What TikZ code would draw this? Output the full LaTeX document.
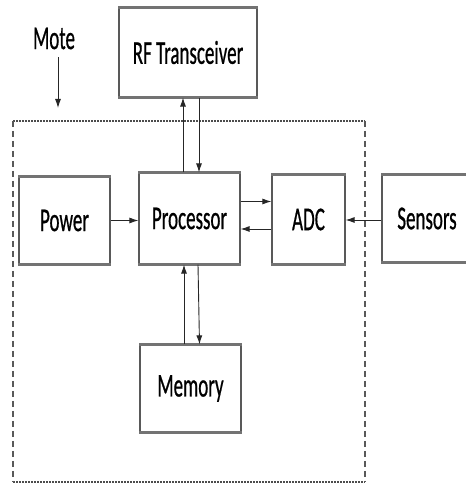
\documentclass[tikz,border=0pt]{standalone}
\usepackage{fontspec}
\setmainfont{Carlito}
\newfontfamily\lblfont{Carlito}[FakeBold=0.9]
\usepackage{graphicx}
\usetikzlibrary{arrows.meta}

% Tall, narrow lettering as in the picture
\newcommand{\tall}[1]{\scalebox{1}[1.75]{#1}}

\tikzset{
    block/.style={draw=black!65, line width=1.2pt, fill=white, inner sep=0pt,
        font=\lblfont\fontsize{19}{22}\selectfont},
    hedge/.style={draw=black!55, line width=2.6pt},
    arr/.style={draw=black!85, line width=0.9pt, -{Latex[length=9pt,width=6pt]}},
    moteline/.style={draw=black!70, line width=1.3pt, dash pattern=on 1.6pt off 1.4pt},
    moteside/.style={draw=black!65, line width=1.1pt, dash pattern=on 6pt off 4pt}
}

\begin{document}
\begin{tikzpicture}[x=1pt, y=1pt]
    \useasboundingbox (0,0) rectangle (466,485);

    % Draw the mote outline
    \draw[moteline] (13,364) -- (365,364);
    \draw[moteline] (13,3) -- (365,3);
    \draw[moteside] (13,364) -- (13,3);
    \draw[moteside] (365,364) -- (365,3);

    % Place the blocks
    \node[block, minimum width=138pt, minimum height=89pt] (rf) at (188,432.5) {\tall{RF Transceiver}};
    \node[block, minimum width=91pt, minimum height=87pt] (power) at (64.5,264.5) {\tall{Power}};
    \node[block, minimum width=101pt, minimum height=91pt] (proc) at (189.5,266.5) {\tall{Processor}};
    \node[block, minimum width=73pt, minimum height=89pt] (adc) at (308.5,265.5) {\tall{ADC}};
    \node[block, minimum width=90pt, minimum height=87pt] (sens) at (427,266.5) {\tall{Sensors}};
    \node[block, minimum width=101pt, minimum height=87pt] (mem) at (190.5,96.5) {\tall{Memory}};

    % Thicker top and bottom edges
    \foreach \n in {rf,power,proc,adc,sens,mem}
        \draw[hedge] (\n.north west) -- (\n.north east) (\n.south west) -- (\n.south east);

    % Place the mote label
    \node[font=\lblfont\fontsize{19}{22}\selectfont, inner sep=0pt] (mote) at (54,446.5) {\tall{Mote}};
    \coordinate (motetip) at (58,377);
    \draw[arr, shorten <=8pt] (mote.south -| motetip) -- (motetip);

    % Draw the connections
    \draw[arr] ([xshift=-6.5pt]proc.north) -- ([xshift=-6.5pt]proc.north |- rf.south);
    \draw[arr] ([xshift=11pt]rf.south) -- ([xshift=11pt]rf.south |- proc.north);
    \draw[arr] (power.east) -- (power.east -| proc.west);
    \draw[arr] ([yshift=17pt]proc.east) -- ([yshift=17pt]proc.east -| adc.west);
    \draw[arr] ([yshift=-9.5pt]adc.west) -- ([yshift=-9.5pt]adc.west -| proc.east);
    \draw[arr] ([yshift=-1.5pt]sens.west) -- ([yshift=-1.5pt]sens.west -| adc.east);
    \draw[arr] ([xshift=-6.5pt]mem.north) -- ([xshift=-6.5pt]mem.north |- proc.south);
    \draw[arr] ([xshift=8.5pt]proc.south) -- ([xshift=9pt]mem.north);

\end{tikzpicture}
\end{document}
